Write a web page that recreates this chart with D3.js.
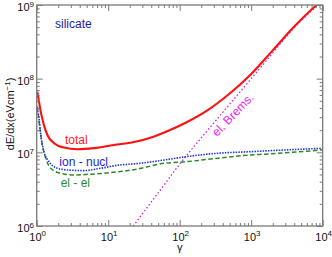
<!DOCTYPE html>
<html><head><meta charset="utf-8">
<script src="https://cdn.jsdelivr.net/npm/d3@7"></script>
<style>body{margin:0;background:#fff}svg{display:block}text{font-family:"Liberation Sans",Arial,sans-serif}</style>
</head><body><svg id="c" width="332" height="257"></svg>
<script>
// ---- data ----
const totalGamma = [1.02,1.076,1.14,1.26,1.41,1.75,2.4,3.7,6.3,12,23,43,62,125,250,500,1000,2000,4000,7000,10000];
const totalVal   = [6.67e7,4.88e7,3.56e7,2.36e7,1.72e7,1.33e7,1.16e7,1.10e7,1.14e7,1.26e7,1.38e7,1.63e7,1.87e7,2.56e7,3.77e7,6.28e7,1.16e8,2.42e8,5.11e8,8.7e8,1.17e9];
const ionGamma = [1.02,1.076,1.14,1.265,1.486,1.94,2.68,4.6,7.85,14.6,23,62,125,347,961,1560,10000];
const ionVal   = [3.96e7,2.90e7,1.72e7,1.02e7,7.48e6,6.08e6,5.77e6,5.65e6,6.08e6,6.75e6,6.97e6,7.89e6,8.75e6,9.73e6,1.02e7,1.045e7,1.135e7];
const elGamma = [1.02,1.042,1.11,1.197,1.337,1.57,2.17,3.33,5.69,13.4,23,62,125,347,961,1560,10000];
const elVal   = [4.2e7,3.56e7,2.12e7,1.26e7,8.3e6,6.08e6,5.2e6,4.93e6,5.05e6,5.43e6,5.82e6,7.11e6,7.48e6,8.32e6,9.2e6,9.44e6,1.08e7];
const bremGamma = [22.4,50,100,251,631,1585,3981,10000];
const bremVal   = [1e6,2.82e6,6.92e6,2.04e7,5.89e7,1.70e8,4.9e8,1.15e9];
const xTickExp = [0,1,2,3,4];
const yTickExp = [6,7,8,9];

// ---- layout ----
const svg = d3.select("#c");
const L = 36.7, R = 322.7, T = 5, B = 226;
const x = d3.scaleLog().domain([1,1e4]).range([L,R]);
const y = d3.scaleLog().domain([1e6,1e9]).range([B,T]);
const axisCol = "#7a7a7a";

svg.append("clipPath").attr("id","clip").append("rect")
  .attr("x",L).attr("y",T).attr("width",R-L).attr("height",B-T);

const line = d3.line().x(d=>x(d[0])).y(d=>y(d[1])).curve(d3.curveMonotoneX);
const g = svg.append("g").attr("clip-path","url(#clip)");
function series(gam, val, col, w, dash){
  g.append("path").datum(gam.map((v,i)=>[v,val[i]]))
    .attr("d",line).attr("fill","none").attr("stroke",col)
    .attr("stroke-width",w).attr("stroke-dasharray",dash||null);
}
series(bremGamma, bremVal, "#d020d0", 1.3, "1.5,2.2");
series(elGamma, elVal, "#2a8a2a", 1.5, "4.5,2.5");
series(ionGamma, ionVal, "#2233ee", 1.6, "1.5,1.2");
series(totalGamma, totalVal, "#ff1010", 2.1);

// ---- axes (ticks inside on all four sides) ----
const xAll = x.ticks();
const yAll = y.ticks();
function isMajor(v){return Math.abs(Math.log10(v)-Math.round(Math.log10(v)))<1e-9;}
function drawAxis(gen, tr){
  const a = svg.append("g").attr("transform",tr).call(gen);
  a.select(".domain").remove();
  a.selectAll("line").attr("stroke",axisCol).attr("stroke-width",1);
  a.selectAll("text").remove();
  return a;
}
const tlen = v=>isMajor(v)?-6:-3;
drawAxis(d3.axisBottom(x).tickValues(xAll).tickFormat(""),`translate(0,${B})`).selectAll(".tick line").attr("y2",d=>tlen(d));
drawAxis(d3.axisTop(x).tickValues(xAll).tickFormat(""),`translate(0,${T})`).selectAll(".tick line").attr("y2",d=>-tlen(d));
drawAxis(d3.axisLeft(y).tickValues(yAll).tickFormat(""),`translate(${L},0)`).selectAll(".tick line").attr("x2",d=>-tlen(d));
drawAxis(d3.axisRight(y).tickValues(yAll).tickFormat(""),`translate(${R},0)`).selectAll(".tick line").attr("x2",d=>tlen(d));
svg.append("rect").attr("x",L).attr("y",T).attr("width",R-L).attr("height",B-T)
  .attr("fill","none").attr("stroke",axisCol).attr("stroke-width",1.3);

// tick labels
xTickExp.forEach(e=>{
  const t = svg.append("text").attr("x",x(Math.pow(10,e))+1).attr("y",240.5)
    .attr("text-anchor","middle").attr("font-size",11).attr("fill","#111");
  t.append("tspan").text("10");
  t.append("tspan").attr("dy",-4.5).attr("font-size",8).text(e);
});
yTickExp.forEach(e=>{
  const t = svg.append("text").attr("x",34).attr("y",y(Math.pow(10,e))+6)
    .attr("text-anchor","end").attr("font-size",11).attr("fill","#111");
  t.append("tspan").text("10");
  t.append("tspan").attr("dy",-4.5).attr("font-size",8).text(e);
});

// axis titles
svg.append("text").attr("x",(L+R)/2).attr("y",251).attr("text-anchor","middle")
  .attr("font-size",11).attr("fill","#111").text("γ");
const yl = svg.append("text").attr("transform","translate(13.5,114) rotate(-90)")
  .attr("text-anchor","middle").attr("font-size",11).attr("fill","#111");
yl.append("tspan").text("dE/dx(eVcm");
yl.append("tspan").attr("dy",-4).attr("font-size",8).text("−1");
yl.append("tspan").attr("dy",4).text(")");

// in-plot labels
svg.append("text").attr("x",55).attr("y",28.3).attr("font-size",12).attr("fill","#1c1ca8").text("silicate");
svg.append("text").attr("x",65).attr("y",144).attr("font-size",12).attr("fill","#ff2020").text("total");
svg.append("text").attr("x",59.3).attr("y",166).attr("font-size",12).attr("fill","#2424d0").text("ion - nucl");
svg.append("text").attr("x",60.7).attr("y",186.7).attr("font-size",12).attr("fill","#2a8a2a").text("el - el");
svg.append("text").attr("transform","translate(217,137) rotate(-46)")
  .attr("font-size",12).attr("fill","#ee22ee").text("el, Brems.");
</script></body></html>
